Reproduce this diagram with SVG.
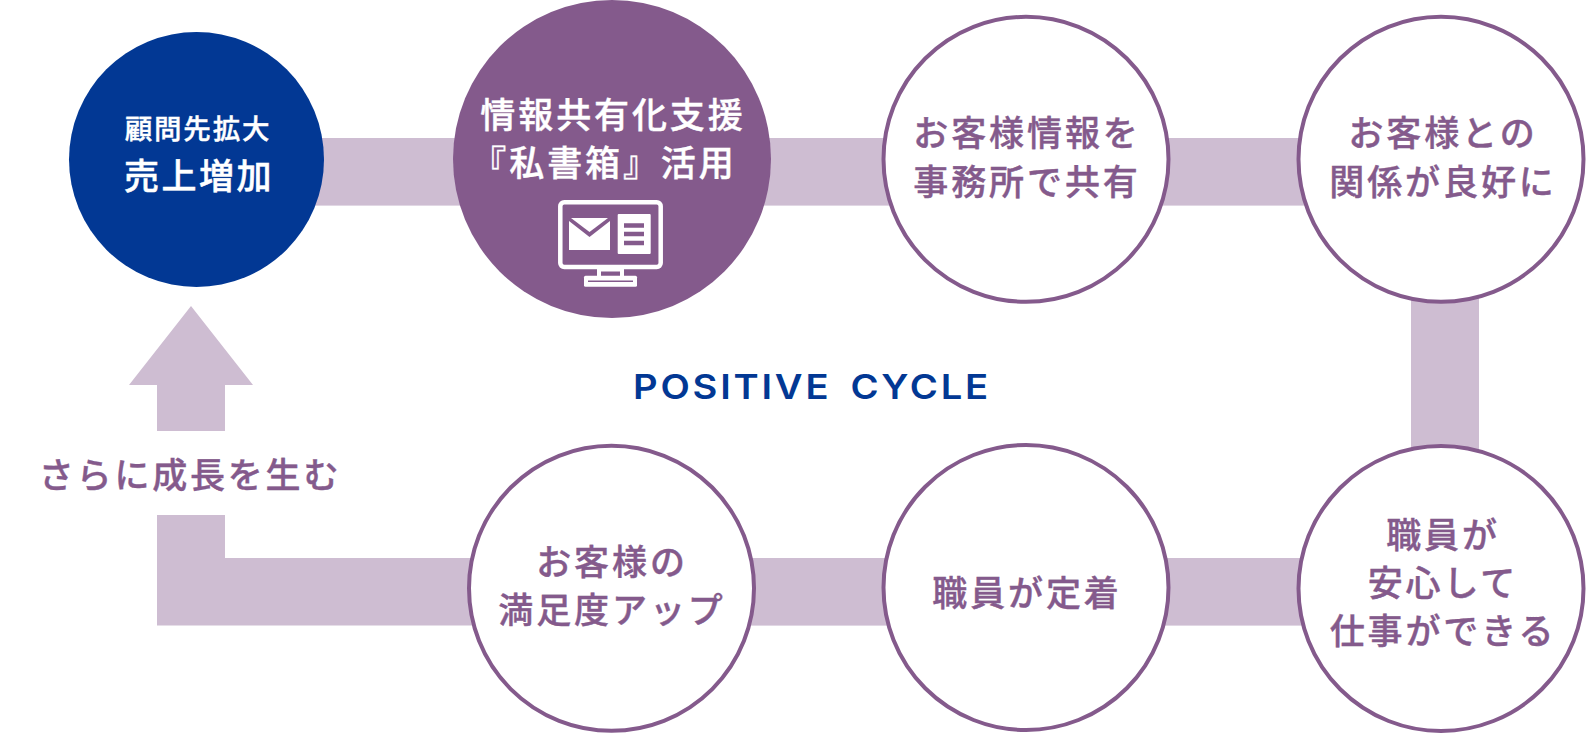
<svg xmlns="http://www.w3.org/2000/svg" width="1587" height="734" viewBox="0 0 1587 734">
<style>
.bar{fill:#cebdd2}
.ring{fill:#fff;stroke:#845a8c;stroke-width:4}
text{font-family:"Noto Sans CJK JP","Noto Sans",sans-serif;font-weight:500;text-anchor:middle}
.p{fill:#845a8c;stroke:#845a8c;stroke-width:.4px;font-size:35px;letter-spacing:2.9px}
.w{fill:#fff;stroke:#fff;stroke-width:.4px;font-size:35px;letter-spacing:2.9px}
</style>
<rect width="1587" height="734" fill="#fff"/>
<g id="connectors">
<rect class="bar" x="300" y="138" width="1150" height="67.6"/>
<rect class="bar" x="1411" y="280" width="68" height="190"/>
<rect class="bar" x="600" y="558" width="850" height="67.6"/>
<path class="bar" d="M157 515H225V558H500V625.6H157Z"/>
<path class="bar" d="M191 306L253 385H225V431H157V385H129Z"/>
</g>
<g id="node-sales">
<circle cx="196.5" cy="159.5" r="127.5" fill="#023894"/>
<text x="198" y="139" style="font-size:27.5px;letter-spacing:1.8px;fill:#fff;stroke:#fff;stroke-width:.4px">顧問先拡大</text>
<text x="199" y="188.500" style="font-size:35px;letter-spacing:2.5px;fill:#fff;stroke:#fff;stroke-width:.5px">売上増加</text>
</g>
<g id="node-support">
<circle cx="612" cy="159" r="159" fill="#845a8c"/>
<text x="613" y="127.500" class="w">情報共有化支援</text>
<text x="604" y="175.500" class="w">『私書箱』活用</text>
<g id="icon">
<rect x="560.3" y="202.200" width="100.4" height="64.800" rx="4" fill="none" stroke="#fff" stroke-width="4.500"/>
<path d="M599 268V277M622 268V277" stroke="#fff" stroke-width="4" fill="none"/>
<path d="M597 270H624" stroke="#fff" stroke-width="3" fill="none"/>
<rect x="584" y="275.700" width="53" height="11" rx="1.500" fill="#fff"/>
<path d="M588 281.200H633" stroke="#845a8c" stroke-width="1.500" fill="none"/>
<path d="M569 221L589.500 237L610 221V250H569Z" fill="#fff"/>
<path d="M571 218H608L589.500 232Z" fill="#fff"/>
<rect x="617.700" y="214" width="33" height="40" rx="1" fill="#fff"/>
<path d="M624 225.500H644M624 234H644M624 243H644" stroke="#845a8c" stroke-width="4.500" fill="none"/>
</g>
</g>
<g id="node-share">
<circle class="ring" cx="1026" cy="159.300" r="142.500"/>
<text x="1027" y="146" class="p">お客様情報を</text>
<text x="1027" y="195" class="p">事務所で共有</text>
</g>
<g id="node-relation">
<circle class="ring" cx="1441" cy="159.300" r="142.500"/>
<text x="1443" y="146" class="p">お客様との</text>
<text x="1443" y="195" class="p">関係が良好に</text>
</g>
<g id="node-relief">
<circle class="ring" cx="1441" cy="588.500" r="142.500"/>
<text x="1443" y="548" class="p">職員が</text>
<text x="1443" y="596" class="p">安心して</text>
<text x="1443" y="644" class="p">仕事ができる</text>
</g>
<g id="node-retain">
<circle class="ring" cx="1026" cy="587.500" r="142.500"/>
<text x="1027" y="606" class="p">職員が定着</text>
</g>
<g id="node-satisfy">
<circle class="ring" cx="611.500" cy="588.300" r="142.500"/>
<text x="612" y="575" class="p">お客様の</text>
<text x="612" y="623" class="p">満足度アップ</text>
</g>
<text id="label-more" x="190" y="488" class="p" style="letter-spacing:2.8px">さらに成長を生む</text>
<text id="label-cycle" x="633" y="399" textLength="358" lengthAdjust="spacingAndGlyphs" style="font-family:Inter,sans-serif;font-size:34px;font-weight:600;fill:#023894;text-anchor:start;letter-spacing:2.5px;word-spacing:6px">POSITIVE CYCLE</text>
</svg>
